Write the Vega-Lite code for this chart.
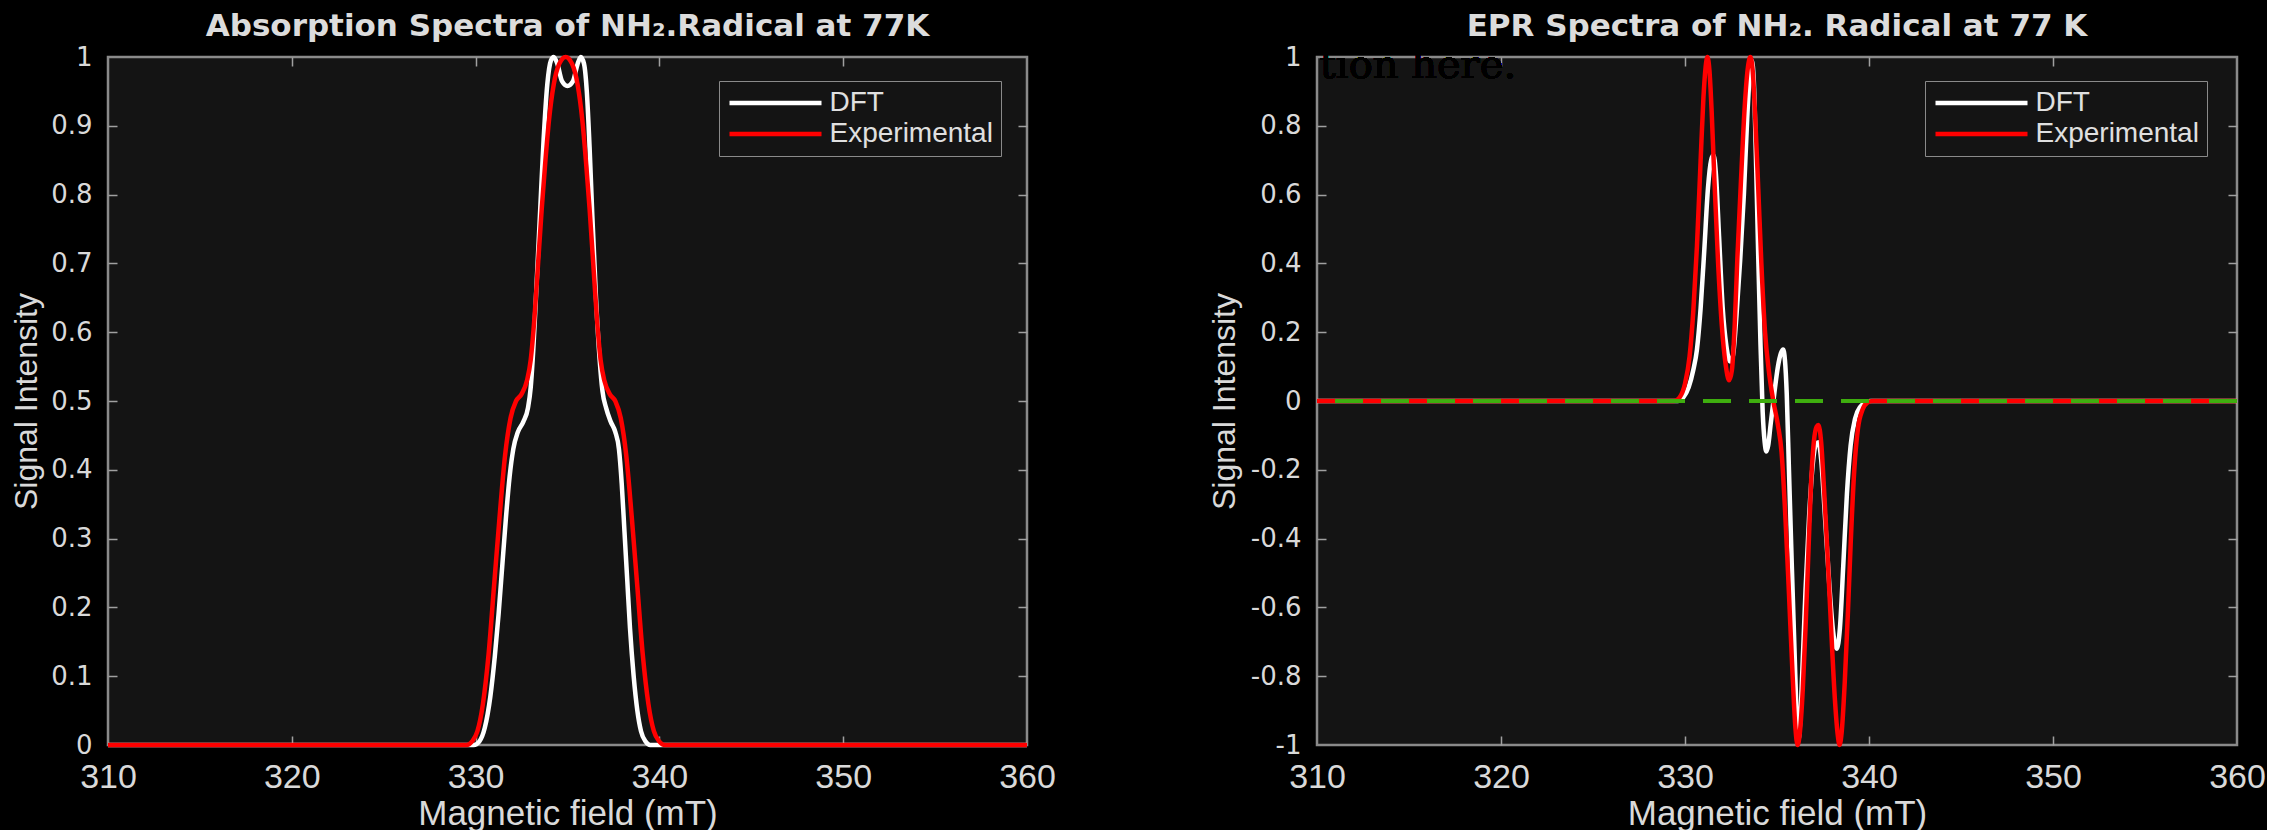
{
  "$schema": "https://vega.github.io/schema/vega-lite/v6.json",
  "background": "#000000",
  "padding": {"left": 8, "top": 9, "right": 0, "bottom": 0},
  "bounds": "flush",
  "spacing": 290,
  "resolve": {"scale": {"color": "independent"}, "legend": {"color": "independent"}},
  "config": {
    "view": {"fill": "#141414", "stroke": "#8a8a8a", "strokeWidth": 2.5},
    "axis": {"domain": false, "grid": false, "tickColor": "#a0a0a0", "tickWidth": 1.5, "labelColor": "#d9d9d9", "titleColor": "#d9d9d9", "titleFont": "Liberation Sans", "titleFontWeight": "normal", "titleFontSize": 35},
    "title": {"font": "DejaVu Sans", "fontSize": 31, "fontWeight": "bold", "color": "#dcdcdc", "anchor": "middle", "frame": "group", "baseline": "alphabetic", "offset": 1},
    "legend": {"orient": "none", "title": null, "labelFont": "Liberation Sans", "labelFontSize": 28, "labelColor": "#e0e0e0", "labelLimit": 400, "symbolType": "M-4,0L4,0", "symbolSize": 529, "symbolOffset": 34.5, "symbolStrokeWidth": 5, "strokeColor": "#8a8a8a", "fillColor": "#141414", "padding": 8, "rowPadding": 3, "labelOffset": 40},
    "line": {"interpolate": "monotone", "strokeWidth": 4.5}
  },
  "datasets": {
    "abs": [
      {"field": 310, "signal": 0, "series": "DFT"},
      {"field": 329.9, "signal": 0, "series": "DFT"},
      {"field": 330.2, "signal": 0.005, "series": "DFT"},
      {"field": 330.5, "signal": 0.025, "series": "DFT"},
      {"field": 330.8, "signal": 0.07, "series": "DFT"},
      {"field": 331.05, "signal": 0.13, "series": "DFT"},
      {"field": 331.25, "signal": 0.19, "series": "DFT"},
      {"field": 331.45, "signal": 0.26, "series": "DFT"},
      {"field": 331.65, "signal": 0.33, "series": "DFT"},
      {"field": 331.85, "signal": 0.39, "series": "DFT"},
      {"field": 332.05, "signal": 0.43, "series": "DFT"},
      {"field": 332.3, "signal": 0.455, "series": "DFT"},
      {"field": 332.6, "signal": 0.47, "series": "DFT"},
      {"field": 332.85, "signal": 0.49, "series": "DFT"},
      {"field": 333.0, "signal": 0.52, "series": "DFT"},
      {"field": 333.15, "signal": 0.58, "series": "DFT"},
      {"field": 333.3, "signal": 0.66, "series": "DFT"},
      {"field": 333.5, "signal": 0.77, "series": "DFT"},
      {"field": 333.7, "signal": 0.88, "series": "DFT"},
      {"field": 333.9, "signal": 0.96, "series": "DFT"},
      {"field": 334.1, "signal": 0.995, "series": "DFT"},
      {"field": 334.25, "signal": 1.0, "series": "DFT"},
      {"field": 334.45, "signal": 0.99, "series": "DFT"},
      {"field": 334.7, "signal": 0.965, "series": "DFT"},
      {"field": 335.0, "signal": 0.958, "series": "DFT"},
      {"field": 335.3, "signal": 0.965, "series": "DFT"},
      {"field": 335.55, "signal": 0.99, "series": "DFT"},
      {"field": 335.72, "signal": 1.0, "series": "DFT"},
      {"field": 335.9, "signal": 0.99, "series": "DFT"},
      {"field": 336.05, "signal": 0.95, "series": "DFT"},
      {"field": 336.2, "signal": 0.87, "series": "DFT"},
      {"field": 336.35, "signal": 0.77, "series": "DFT"},
      {"field": 336.55, "signal": 0.65, "series": "DFT"},
      {"field": 336.75, "signal": 0.56, "series": "DFT"},
      {"field": 336.9, "signal": 0.515, "series": "DFT"},
      {"field": 337.1, "signal": 0.49, "series": "DFT"},
      {"field": 337.35, "signal": 0.47, "series": "DFT"},
      {"field": 337.6, "signal": 0.455, "series": "DFT"},
      {"field": 337.8, "signal": 0.43, "series": "DFT"},
      {"field": 337.95, "signal": 0.38, "series": "DFT"},
      {"field": 338.1, "signal": 0.31, "series": "DFT"},
      {"field": 338.25, "signal": 0.24, "series": "DFT"},
      {"field": 338.4, "signal": 0.17, "series": "DFT"},
      {"field": 338.6, "signal": 0.1, "series": "DFT"},
      {"field": 338.8, "signal": 0.05, "series": "DFT"},
      {"field": 339.0, "signal": 0.02, "series": "DFT"},
      {"field": 339.25, "signal": 0.005, "series": "DFT"},
      {"field": 339.5, "signal": 0, "series": "DFT"},
      {"field": 360, "signal": 0, "series": "DFT"},
      {"field": 310, "signal": 0, "series": "Experimental"},
      {"field": 329.5, "signal": 0, "series": "Experimental"},
      {"field": 329.8, "signal": 0.005, "series": "Experimental"},
      {"field": 330.1, "signal": 0.02, "series": "Experimental"},
      {"field": 330.4, "signal": 0.06, "series": "Experimental"},
      {"field": 330.7, "signal": 0.13, "series": "Experimental"},
      {"field": 331.0, "signal": 0.23, "series": "Experimental"},
      {"field": 331.3, "signal": 0.33, "series": "Experimental"},
      {"field": 331.6, "signal": 0.42, "series": "Experimental"},
      {"field": 331.9, "signal": 0.475, "series": "Experimental"},
      {"field": 332.2, "signal": 0.5, "series": "Experimental"},
      {"field": 332.5, "signal": 0.51, "series": "Experimental"},
      {"field": 332.8, "signal": 0.53, "series": "Experimental"},
      {"field": 333.0, "signal": 0.56, "series": "Experimental"},
      {"field": 333.2, "signal": 0.62, "series": "Experimental"},
      {"field": 333.4, "signal": 0.7, "series": "Experimental"},
      {"field": 333.6, "signal": 0.78, "series": "Experimental"},
      {"field": 333.8, "signal": 0.85, "series": "Experimental"},
      {"field": 334.0, "signal": 0.91, "series": "Experimental"},
      {"field": 334.25, "signal": 0.96, "series": "Experimental"},
      {"field": 334.55, "signal": 0.99, "series": "Experimental"},
      {"field": 334.9, "signal": 1.0, "series": "Experimental"},
      {"field": 335.25, "signal": 0.99, "series": "Experimental"},
      {"field": 335.55, "signal": 0.96, "series": "Experimental"},
      {"field": 335.8, "signal": 0.91, "series": "Experimental"},
      {"field": 336.0, "signal": 0.85, "series": "Experimental"},
      {"field": 336.2, "signal": 0.78, "series": "Experimental"},
      {"field": 336.4, "signal": 0.7, "series": "Experimental"},
      {"field": 336.6, "signal": 0.62, "series": "Experimental"},
      {"field": 336.8, "signal": 0.56, "series": "Experimental"},
      {"field": 337.0, "signal": 0.53, "series": "Experimental"},
      {"field": 337.3, "signal": 0.51, "series": "Experimental"},
      {"field": 337.6, "signal": 0.5, "series": "Experimental"},
      {"field": 337.9, "signal": 0.475, "series": "Experimental"},
      {"field": 338.2, "signal": 0.42, "series": "Experimental"},
      {"field": 338.5, "signal": 0.33, "series": "Experimental"},
      {"field": 338.8, "signal": 0.23, "series": "Experimental"},
      {"field": 339.1, "signal": 0.13, "series": "Experimental"},
      {"field": 339.4, "signal": 0.06, "series": "Experimental"},
      {"field": 339.7, "signal": 0.02, "series": "Experimental"},
      {"field": 340.0, "signal": 0.005, "series": "Experimental"},
      {"field": 340.3, "signal": 0, "series": "Experimental"},
      {"field": 360, "signal": 0, "series": "Experimental"}
    ],
    "epr": [
      {"field": 310, "signal": 0, "series": "DFT"},
      {"field": 329.6, "signal": 0, "series": "DFT"},
      {"field": 329.9, "signal": 0.01, "series": "DFT"},
      {"field": 330.2, "signal": 0.04, "series": "DFT"},
      {"field": 330.45, "signal": 0.09, "series": "DFT"},
      {"field": 330.65, "signal": 0.15, "series": "DFT"},
      {"field": 330.85, "signal": 0.27, "series": "DFT"},
      {"field": 331.05, "signal": 0.44, "series": "DFT"},
      {"field": 331.25, "signal": 0.62, "series": "DFT"},
      {"field": 331.42, "signal": 0.7, "series": "DFT"},
      {"field": 331.55, "signal": 0.715, "series": "DFT"},
      {"field": 331.68, "signal": 0.66, "series": "DFT"},
      {"field": 331.85, "signal": 0.48, "series": "DFT"},
      {"field": 332.05, "signal": 0.27, "series": "DFT"},
      {"field": 332.25, "signal": 0.16, "series": "DFT"},
      {"field": 332.45, "signal": 0.115, "series": "DFT"},
      {"field": 332.6, "signal": 0.13, "series": "DFT"},
      {"field": 332.8, "signal": 0.25, "series": "DFT"},
      {"field": 333.0, "signal": 0.41, "series": "DFT"},
      {"field": 333.2, "signal": 0.6, "series": "DFT"},
      {"field": 333.38, "signal": 0.82, "series": "DFT"},
      {"field": 333.52, "signal": 0.95, "series": "DFT"},
      {"field": 333.63, "signal": 0.99, "series": "DFT"},
      {"field": 333.74, "signal": 0.93, "series": "DFT"},
      {"field": 333.85, "signal": 0.72, "series": "DFT"},
      {"field": 333.98, "signal": 0.42, "series": "DFT"},
      {"field": 334.1, "signal": 0.17, "series": "DFT"},
      {"field": 334.22, "signal": -0.03, "series": "DFT"},
      {"field": 334.33, "signal": -0.12, "series": "DFT"},
      {"field": 334.42, "signal": -0.147, "series": "DFT"},
      {"field": 334.52, "signal": -0.13, "series": "DFT"},
      {"field": 334.65, "signal": -0.07, "series": "DFT"},
      {"field": 334.85, "signal": 0.02, "series": "DFT"},
      {"field": 335.05, "signal": 0.1, "series": "DFT"},
      {"field": 335.22, "signal": 0.14, "series": "DFT"},
      {"field": 335.33, "signal": 0.15, "series": "DFT"},
      {"field": 335.43, "signal": 0.12, "series": "DFT"},
      {"field": 335.53, "signal": 0.02, "series": "DFT"},
      {"field": 335.65, "signal": -0.2, "series": "DFT"},
      {"field": 335.8, "signal": -0.47, "series": "DFT"},
      {"field": 335.95, "signal": -0.72, "series": "DFT"},
      {"field": 336.07, "signal": -0.92, "series": "DFT"},
      {"field": 336.15, "signal": -0.99, "series": "DFT"},
      {"field": 336.25, "signal": -0.94, "series": "DFT"},
      {"field": 336.38, "signal": -0.78, "series": "DFT"},
      {"field": 336.55, "signal": -0.55, "series": "DFT"},
      {"field": 336.75, "signal": -0.33, "series": "DFT"},
      {"field": 336.95, "signal": -0.18, "series": "DFT"},
      {"field": 337.12, "signal": -0.125, "series": "DFT"},
      {"field": 337.25, "signal": -0.12, "series": "DFT"},
      {"field": 337.4, "signal": -0.17, "series": "DFT"},
      {"field": 337.6, "signal": -0.33, "series": "DFT"},
      {"field": 337.85, "signal": -0.54, "series": "DFT"},
      {"field": 338.05, "signal": -0.67, "series": "DFT"},
      {"field": 338.25, "signal": -0.72, "series": "DFT"},
      {"field": 338.42, "signal": -0.66, "series": "DFT"},
      {"field": 338.6, "signal": -0.48, "series": "DFT"},
      {"field": 338.8, "signal": -0.27, "series": "DFT"},
      {"field": 339.0, "signal": -0.13, "series": "DFT"},
      {"field": 339.25, "signal": -0.05, "series": "DFT"},
      {"field": 339.55, "signal": -0.015, "series": "DFT"},
      {"field": 339.85, "signal": -0.003, "series": "DFT"},
      {"field": 340.1, "signal": 0, "series": "DFT"},
      {"field": 360, "signal": 0, "series": "DFT"},
      {"field": 310, "signal": 0, "series": "Experimental"},
      {"field": 329.4, "signal": 0, "series": "Experimental"},
      {"field": 329.7, "signal": 0.01, "series": "Experimental"},
      {"field": 330.0, "signal": 0.05, "series": "Experimental"},
      {"field": 330.25, "signal": 0.13, "series": "Experimental"},
      {"field": 330.45, "signal": 0.26, "series": "Experimental"},
      {"field": 330.65, "signal": 0.45, "series": "Experimental"},
      {"field": 330.85, "signal": 0.7, "series": "Experimental"},
      {"field": 331.0, "signal": 0.88, "series": "Experimental"},
      {"field": 331.12, "signal": 0.97, "series": "Experimental"},
      {"field": 331.22, "signal": 1.0, "series": "Experimental"},
      {"field": 331.33, "signal": 0.96, "series": "Experimental"},
      {"field": 331.45, "signal": 0.84, "series": "Experimental"},
      {"field": 331.6, "signal": 0.64, "series": "Experimental"},
      {"field": 331.8, "signal": 0.4, "series": "Experimental"},
      {"field": 332.0, "signal": 0.22, "series": "Experimental"},
      {"field": 332.2, "signal": 0.11, "series": "Experimental"},
      {"field": 332.4, "signal": 0.06, "series": "Experimental"},
      {"field": 332.55, "signal": 0.09, "series": "Experimental"},
      {"field": 332.7, "signal": 0.22, "series": "Experimental"},
      {"field": 332.85, "signal": 0.42, "series": "Experimental"},
      {"field": 333.05, "signal": 0.65, "series": "Experimental"},
      {"field": 333.25, "signal": 0.86, "series": "Experimental"},
      {"field": 333.42, "signal": 0.97, "series": "Experimental"},
      {"field": 333.55, "signal": 1.0, "series": "Experimental"},
      {"field": 333.68, "signal": 0.96, "series": "Experimental"},
      {"field": 333.82, "signal": 0.82, "series": "Experimental"},
      {"field": 333.98, "signal": 0.62, "series": "Experimental"},
      {"field": 334.15, "signal": 0.4, "series": "Experimental"},
      {"field": 334.35, "signal": 0.2, "series": "Experimental"},
      {"field": 334.55, "signal": 0.09, "series": "Experimental"},
      {"field": 334.8, "signal": 0, "series": "Experimental"},
      {"field": 335.05, "signal": -0.07, "series": "Experimental"},
      {"field": 335.25, "signal": -0.15, "series": "Experimental"},
      {"field": 335.45, "signal": -0.33, "series": "Experimental"},
      {"field": 335.65, "signal": -0.56, "series": "Experimental"},
      {"field": 335.85, "signal": -0.8, "series": "Experimental"},
      {"field": 336.0, "signal": -0.95, "series": "Experimental"},
      {"field": 336.12, "signal": -1.0, "series": "Experimental"},
      {"field": 336.25, "signal": -0.96, "series": "Experimental"},
      {"field": 336.4, "signal": -0.84, "series": "Experimental"},
      {"field": 336.55, "signal": -0.66, "series": "Experimental"},
      {"field": 336.7, "signal": -0.45, "series": "Experimental"},
      {"field": 336.85, "signal": -0.24, "series": "Experimental"},
      {"field": 337.0, "signal": -0.12, "series": "Experimental"},
      {"field": 337.15, "signal": -0.075, "series": "Experimental"},
      {"field": 337.25, "signal": -0.07, "series": "Experimental"},
      {"field": 337.4, "signal": -0.12, "series": "Experimental"},
      {"field": 337.55, "signal": -0.25, "series": "Experimental"},
      {"field": 337.75, "signal": -0.45, "series": "Experimental"},
      {"field": 337.95, "signal": -0.67, "series": "Experimental"},
      {"field": 338.15, "signal": -0.87, "series": "Experimental"},
      {"field": 338.3, "signal": -0.97, "series": "Experimental"},
      {"field": 338.4, "signal": -1.0, "series": "Experimental"},
      {"field": 338.52, "signal": -0.96, "series": "Experimental"},
      {"field": 338.68, "signal": -0.82, "series": "Experimental"},
      {"field": 338.85, "signal": -0.62, "series": "Experimental"},
      {"field": 339.0, "signal": -0.42, "series": "Experimental"},
      {"field": 339.2, "signal": -0.2, "series": "Experimental"},
      {"field": 339.4, "signal": -0.08, "series": "Experimental"},
      {"field": 339.65, "signal": -0.025, "series": "Experimental"},
      {"field": 339.9, "signal": -0.005, "series": "Experimental"},
      {"field": 340.2, "signal": 0, "series": "Experimental"},
      {"field": 360, "signal": 0, "series": "Experimental"}
    ]
  },
  "hconcat": [
    {
      "width": 919,
      "height": 688,
      "title": {"text": "Absorption Spectra of NH₂.Radical at 77K"},
      "data": {"name": "abs"},
      "resolve": {"axis": {"x": "independent", "y": "independent"}},
      "layer": [
        {
          "mark": {"type": "line"},
          "encoding": {
            "x": {"field": "field", "type": "quantitative", "scale": {"domain": [310, 360], "nice": false, "zero": false},
              "axis": {"orient": "bottom", "values": [310, 320, 330, 340, 350, 360], "format": "d", "ticks": false, "labelFlush": false, "labelFont": "Liberation Sans", "labelFontSize": 34, "labelPadding": 15, "title": "Magnetic field (mT)", "titleY": 79, "titleBaseline": "alphabetic"}},
            "y": {"field": "signal", "type": "quantitative", "scale": {"domain": [0, 1], "nice": false},
              "axis": {"orient": "left", "values": [0, 0.1, 0.2, 0.3, 0.4, 0.5, 0.6, 0.7, 0.8, 0.9, 1], "labelExpr": "'' + datum.value", "ticks": false, "labelFont": "DejaVu Sans", "labelFontSize": 26, "labelPadding": 16, "title": "Signal Intensity", "titleX": -82, "titleBaseline": "middle", "titleFontSize": 32}},
            "color": {"field": "series", "type": "nominal", "scale": {"domain": ["DFT", "Experimental"], "range": ["#ffffff", "#ff0000"]}, "legend": {"legendX": 611, "legendY": 24}}
          }
        },
        {
          "mark": {"type": "point", "opacity": 0},
          "encoding": {
            "x": {"field": "field", "type": "quantitative", "axis": {"orient": "bottom", "values": [320, 330, 340, 350], "labels": false, "title": null, "tickSize": -9}},
            "y": {"field": "signal", "type": "quantitative", "axis": {"orient": "left", "values": [0.1, 0.2, 0.3, 0.4, 0.5, 0.6, 0.7, 0.8, 0.9], "labels": false, "title": null, "tickSize": -9}}
          }
        },
        {
          "mark": {"type": "point", "opacity": 0},
          "encoding": {
            "x": {"field": "field", "type": "quantitative", "axis": {"orient": "top", "values": [320, 330, 340, 350], "labels": false, "title": null, "tickSize": -9}},
            "y": {"field": "signal", "type": "quantitative", "axis": {"orient": "right", "values": [0.1, 0.2, 0.3, 0.4, 0.5, 0.6, 0.7, 0.8, 0.9], "labels": false, "title": null, "tickSize": -9}}
          }
        }
      ]
    },
    {
      "width": 920,
      "height": 688,
      "title": {"text": "EPR Spectra of NH₂. Radical at 77 K"},
      "data": {"name": "epr"},
      "resolve": {"axis": {"x": "independent", "y": "independent"}},
      "layer": [
        {
          "mark": {"type": "line"},
          "encoding": {
            "x": {"field": "field", "type": "quantitative", "scale": {"domain": [310, 360], "nice": false, "zero": false},
              "axis": {"orient": "bottom", "values": [310, 320, 330, 340, 350, 360], "format": "d", "ticks": false, "labelFlush": false, "labelFont": "Liberation Sans", "labelFontSize": 34, "labelPadding": 15, "title": "Magnetic field (mT)", "titleY": 79, "titleBaseline": "alphabetic"}},
            "y": {"field": "signal", "type": "quantitative", "scale": {"domain": [-1, 1], "nice": false, "zero": false},
              "axis": {"orient": "left", "values": [-1, -0.8, -0.6, -0.4, -0.2, 0, 0.2, 0.4, 0.6, 0.8, 1], "labelExpr": "'' + datum.value", "ticks": false, "labelFont": "DejaVu Sans", "labelFontSize": 26, "labelPadding": 16, "title": "Signal Intensity", "titleX": -93, "titleBaseline": "middle", "titleFontSize": 32}},
            "color": {"field": "series", "type": "nominal", "scale": {"domain": ["DFT", "Experimental"], "range": ["#ffffff", "#ff0000"]}, "legend": {"legendX": 608, "legendY": 24}}
          }
        },
        {
          "mark": {"type": "rule", "color": "#3fae0f", "strokeWidth": 3, "strokeDash": [28, 18]},
          "encoding": {"y": {"datum": 0, "axis": null}}
        },
        {
          "mark": {"type": "text", "font": "DejaVu Serif", "fontSize": 40, "color": "#000000", "align": "left", "baseline": "alphabetic"},
          "encoding": {
            "x": {"datum": 310.15, "axis": null},
            "y": {"datum": 0.94, "axis": null},
            "text": {"value": "tion here."}
          }
        },
        {
          "mark": {"type": "point", "opacity": 0},
          "encoding": {
            "x": {"field": "field", "type": "quantitative", "axis": {"orient": "bottom", "values": [320, 330, 340, 350], "labels": false, "title": null, "tickSize": -9}},
            "y": {"field": "signal", "type": "quantitative", "axis": {"orient": "left", "values": [-0.8, -0.6, -0.4, -0.2, 0, 0.2, 0.4, 0.6, 0.8], "labels": false, "title": null, "tickSize": -9}}
          }
        },
        {
          "mark": {"type": "point", "opacity": 0},
          "encoding": {
            "x": {"field": "field", "type": "quantitative", "axis": {"orient": "top", "values": [320, 330, 340, 350], "labels": false, "title": null, "tickSize": -9}},
            "y": {"field": "signal", "type": "quantitative", "axis": {"orient": "right", "values": [-0.8, -0.6, -0.4, -0.2, 0, 0.2, 0.4, 0.6, 0.8], "labels": false, "title": null, "tickSize": -9}}
          }
        }
      ]
    }
  ]
}
